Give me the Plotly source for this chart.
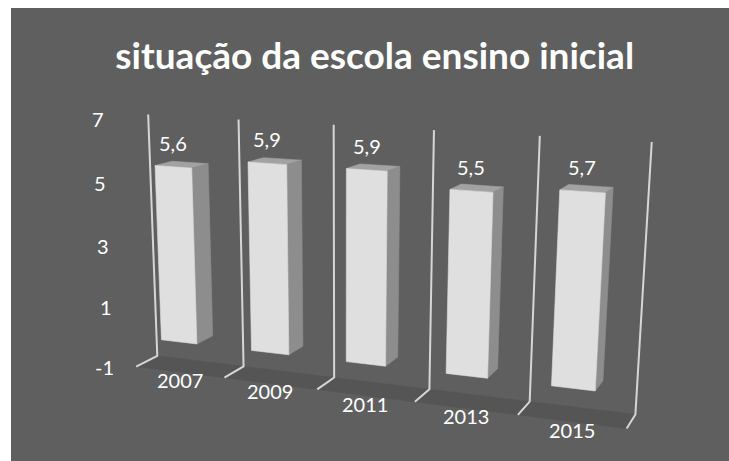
import math
import numpy as np
import plotly.graph_objects as go

# ---- chart data ----
years = ["2007", "2009", "2011", "2013", "2015"]
scores = [5.6, 5.9, 5.9, 5.5, 5.7]
value_ticks = [7, 5, 3, 1, -1]
value_min, value_max = -1, 7
title_text = "situação da escola ensino inicial"

# ---- 3D scene geometry (world units: one value unit vertically) ----
SLOT = 2.98            # width of one category slot
BAR_FRAC = 0.4         # bar width as a fraction of a slot
FLOOR_DEPTH = 1.24     # depth of the floor
BAR_DEPTH = (0.02, 1.0)
Z_SCALE = 0.93

# ---- camera ----
AZIM = math.radians(-20)
ELEV = math.radians(15)
ROLL = math.radians(0.7)
FOCAL = 1330
EYE = np.array([19.24, -33.36, 10.77])
CENTER = (404, 325)

W, H = 729, 461

BG = "#5f5f5f"
FLOOR = "#555555"
FRONT = "#dfdfdf"
SIDE = "#8d8d8d"
TOP = "#a2a2a2"
GRID = "#d6d6d6"
FONT = "Lato"

fwd = np.array([math.sin(AZIM) * math.cos(ELEV), math.cos(AZIM) * math.cos(ELEV), -math.sin(ELEV)])
right = np.array([math.cos(AZIM), -math.sin(AZIM), 0.0])
up = np.array([math.sin(AZIM) * math.sin(ELEV), math.cos(AZIM) * math.sin(ELEV), math.cos(ELEV)])


def project(x, y, z):
    """x in category slots, y in depth units, z in chart values -> image plane."""
    p = np.array([x * SLOT, y, z * Z_SCALE]) - EYE
    d = p @ fwd
    a = FOCAL * (p @ right) / d
    b = -FOCAL * (p @ up) / d
    u = CENTER[0] + a * math.cos(ROLL) - b * math.sin(ROLL)
    v = CENTER[1] + a * math.sin(ROLL) + b * math.cos(ROLL)
    return u, v


def polygon(pts, color):
    xy = [project(*p) for p in pts]
    xs = [q[0] for q in xy] + [xy[0][0]]
    ys = [q[1] for q in xy] + [xy[0][1]]
    return go.Scatter(x=xs, y=ys, mode="lines", fill="toself", fillcolor=color,
                      line=dict(color=color, width=0.6), hoverinfo="skip", showlegend=False)


fig = go.Figure()
n = len(years)

# floor
fig.add_trace(polygon([(-0.5, 0, value_min), (n - 0.5, 0, value_min),
                       (n - 0.5, FLOOR_DEPTH, value_min), (-0.5, FLOOR_DEPTH, value_min)], FLOOR))

# category gridlines: along the floor, then up the back wall
gx, gy = [], []
for k in range(n + 1):
    xk = k - 0.5
    for p in [(xk, 0, value_min), (xk, FLOOR_DEPTH, value_min), (xk, FLOOR_DEPTH, value_max)]:
        u, v = project(*p)
        gx.append(u)
        gy.append(v)
    gx.append(None)
    gy.append(None)
fig.add_trace(go.Scatter(x=gx, y=gy, mode="lines", line=dict(color=GRID, width=2),
                         hoverinfo="skip", showlegend=False))

# bars
y0, y1 = BAR_DEPTH
annotations = []
for i, val in enumerate(scores):
    x0, x1 = i - BAR_FRAC / 2, i + BAR_FRAC / 2
    fig.add_trace(polygon([(x0, y0, val), (x1, y0, val), (x1, y1, val), (x0, y1, val)], TOP))
    fig.add_trace(polygon([(x1, y0, 0), (x1, y1, 0), (x1, y1, val), (x1, y0, val)], SIDE))
    fig.add_trace(polygon([(x0, y0, 0), (x1, y0, 0), (x1, y0, val), (x0, y0, val)], FRONT))

    u, v = project(i, y0, val)
    annotations.append(dict(x=u, y=v, text=f"{val:.1f}".replace(".", ","), showarrow=False,
                            xanchor="center", yanchor="middle", yshift=24,
                            font=dict(family=FONT, size=20, color="white")))
    u, v = project(i, 0, value_min)
    annotations.append(dict(x=u, y=v, text=years[i], showarrow=False,
                            xanchor="center", yanchor="middle", yshift=-8,
                            font=dict(family=FONT, size=20, color="white")))

# value axis labels
for t in value_ticks:
    u, v = project(-0.5, 0, t)
    annotations.append(dict(x=u, y=v, text=str(t), showarrow=False,
                            xanchor="right", yanchor="middle", xshift=-20,
                            font=dict(family=FONT, size=20, color="white")))

fig.update_layout(
    width=W, height=H,
    margin=dict(l=0, r=0, t=0, b=0),
    paper_bgcolor="white",
    plot_bgcolor="rgba(0,0,0,0)",
    xaxis=dict(range=[0, W], visible=False, fixedrange=True),
    yaxis=dict(range=[H, 0], visible=False, fixedrange=True),
    title=dict(text=f"<b>{title_text}</b>", x=0.514, xanchor="center", y=1 - 56 / H, yanchor="middle",
               font=dict(family=FONT, size=37, color="white")),
    annotations=annotations,
    shapes=[dict(type="rect", xref="paper", yref="paper", x0=11 / W, x1=1, y0=0, y1=1 - 8 / H,
                 fillcolor=BG, line=dict(width=0), layer="below")],
    showlegend=False,
)

fig.write_html("out.html")
